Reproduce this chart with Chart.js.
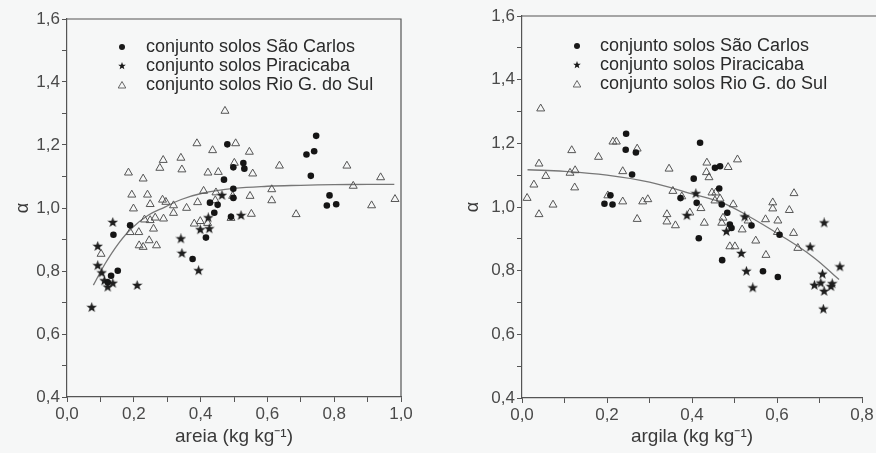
<!DOCTYPE html>
<html>
<head>
<meta charset="utf-8">
<script src="https://cdn.jsdelivr.net/npm/chart.js@4.4.0/dist/chart.umd.min.js"></script>
<style>
	body { margin: 0; background: #f6f7f7; }
	#left { position: absolute; left: 0; top: 0; }
	#right { position: absolute; left: 450px; top: 0; }
</style>
</head>
<body>
<canvas id="left" width="440" height="453"></canvas>
<canvas id="right" width="426" height="453"></canvas>
<script>
// legend labels
const seriesLabels = [
	'conjunto solos São Carlos',
	'conjunto solos Piracicaba',
	'conjunto solos Rio G. do Sul'
];

// ---- areia (left panel), [x, alpha]
const areiaSaoCarlos = [
	[0.480, 1.202], [0.528, 1.143], [0.498, 1.129], [0.531, 1.125], [0.470, 1.090],
	[0.498, 1.061], [0.498, 1.032], [0.428, 1.017], [0.451, 1.010], [0.441, 0.985],
	[0.491, 0.972], [0.189, 0.945], [0.139, 0.915], [0.416, 0.906], [0.376, 0.838],
	[0.152, 0.801], [0.132, 0.785], [0.122, 0.764], [0.746, 1.229], [0.717, 1.170],
	[0.740, 1.180], [0.730, 1.102], [0.786, 1.040], [0.778, 1.008], [0.806, 1.012]
];
const areiaPiracicaba = [
	[0.137, 0.954], [0.092, 0.878], [0.092, 0.817], [0.104, 0.794], [0.112, 0.769],
	[0.137, 0.761], [0.122, 0.749], [0.210, 0.754], [0.074, 0.684], [0.341, 0.902],
	[0.344, 0.856], [0.394, 0.801], [0.426, 0.934], [0.423, 0.969], [0.399, 0.931],
	[0.464, 1.040], [0.521, 0.976]
];
const areiaRioGrande = [
	[0.473, 1.308], [0.389, 1.205], [0.505, 1.205], [0.436, 1.183], [0.546, 1.178],
	[0.288, 1.152], [0.341, 1.159], [0.278, 1.127], [0.344, 1.122], [0.501, 1.143],
	[0.184, 1.112], [0.422, 1.112], [0.453, 1.114], [0.556, 1.109], [0.636, 1.134],
	[0.228, 1.093], [0.409, 1.054], [0.446, 1.049], [0.194, 1.042], [0.241, 1.042],
	[0.496, 1.038], [0.548, 1.038], [0.613, 1.059], [0.613, 1.024], [0.286, 1.026],
	[0.296, 1.019], [0.249, 1.012], [0.391, 1.018], [0.319, 1.008], [0.444, 1.024],
	[0.199, 0.998], [0.358, 1.000], [0.319, 0.984], [0.552, 0.981], [0.491, 0.968],
	[0.232, 0.963], [0.249, 0.961], [0.264, 0.969], [0.289, 0.966], [0.381, 0.950],
	[0.399, 0.958], [0.421, 0.952], [0.259, 0.934], [0.189, 0.923], [0.215, 0.923],
	[0.246, 0.897], [0.216, 0.881], [0.228, 0.876], [0.268, 0.881], [0.102, 0.854],
	[0.838, 1.134], [0.939, 1.097], [0.857, 1.070], [0.982, 1.028], [0.912, 1.008],
	[0.686, 0.980]
];
const areiaFitX = [0.079, 0.114, 0.154, 0.193, 0.243, 0.293, 0.342, 0.402, 0.5, 0.6, 0.7, 0.8, 0.9, 0.98];
const areiaFitY = [0.755, 0.823, 0.887, 0.935, 0.977, 1.003, 1.027, 1.046, 1.062, 1.069, 1.072, 1.074, 1.075, 1.075];

// ---- argila (right panel), [x, alpha]
const argilaSaoCarlos = [
	[0.245, 1.230], [0.244, 1.180], [0.268, 1.171], [0.259, 1.102], [0.208, 1.037],
	[0.194, 1.010], [0.213, 1.008], [0.373, 1.028], [0.404, 1.089], [0.411, 1.013],
	[0.416, 0.902], [0.419, 1.202], [0.454, 1.123], [0.466, 1.128], [0.464, 1.058],
	[0.470, 1.008], [0.483, 0.982], [0.489, 0.945], [0.493, 0.934], [0.540, 0.942],
	[0.606, 0.913], [0.471, 0.833], [0.567, 0.798], [0.602, 0.780]
];
const argilaPiracicaba = [
	[0.388, 0.973], [0.409, 1.042], [0.481, 0.923], [0.524, 0.969], [0.516, 0.854],
	[0.528, 0.798], [0.543, 0.746], [0.711, 0.950], [0.678, 0.874], [0.748, 0.812],
	[0.707, 0.789], [0.688, 0.754], [0.703, 0.761], [0.711, 0.735], [0.727, 0.750],
	[0.730, 0.759], [0.709, 0.679]
];
const argilaRioGrande = [
	[0.044, 1.309], [0.214, 1.205], [0.222, 1.205], [0.117, 1.178], [0.271, 1.183],
	[0.180, 1.157], [0.040, 1.136], [0.237, 1.112], [0.346, 1.120], [0.125, 1.115],
	[0.113, 1.107], [0.056, 1.097], [0.028, 1.070], [0.124, 1.061], [0.355, 1.050],
	[0.012, 1.028], [0.073, 1.007], [0.202, 1.036], [0.237, 1.017], [0.284, 1.017],
	[0.296, 1.024], [0.376, 1.033], [0.040, 0.977], [0.271, 0.962], [0.341, 0.977],
	[0.341, 0.954], [0.361, 0.942], [0.395, 0.982], [0.435, 1.139], [0.485, 1.125],
	[0.507, 1.149], [0.434, 1.109], [0.440, 1.093], [0.447, 1.045], [0.456, 1.045],
	[0.466, 1.026], [0.454, 1.020], [0.497, 1.008], [0.421, 0.996], [0.429, 0.950],
	[0.470, 0.950], [0.473, 0.966], [0.532, 0.957], [0.518, 0.929], [0.489, 0.876],
	[0.501, 0.876], [0.550, 0.894], [0.574, 0.849], [0.640, 1.043], [0.590, 1.014],
	[0.590, 0.995], [0.629, 0.990], [0.573, 0.961], [0.602, 0.957], [0.601, 0.921],
	[0.639, 0.918], [0.649, 0.871]
];
const argilaFitX = [0.013, 0.1, 0.2, 0.3, 0.4, 0.47, 0.528, 0.606, 0.684, 0.746];
const argilaFitY = [1.117, 1.112, 1.100, 1.078, 1.041, 1.014, 0.975, 0.913, 0.844, 0.772];

const FONT = "'Liberation Sans', Arial, sans-serif";

// filled five point star used as point style
function starImage (size, color) {
	const c = document.createElement('canvas');
	c.width = size;
	c.height = size;
	const g = c.getContext('2d');
	drawStar(g, size / 2, size / 2, size / 2, color);
	return c;
}

function drawStar (g, cx, cy, r, color) {
	g.beginPath();
	for (let i = 0; i < 10; i++) {
		const rad = i % 2 === 0 ? r : r * 0.42;
		const a = -Math.PI / 2 + i * Math.PI / 5;
		g.lineTo(cx + rad * Math.cos(a), cy + rad * Math.sin(a));
	}
	g.closePath();
	g.fillStyle = color;
	g.fill();
}

const starPoint = starImage(11, '#1e1e1e');

const toXY = arr => arr.map(p => ({ x: p[0], y: p[1] }));
const decimalComma = v => {
	const n = Math.round(v * 10);
	return n % 2 === 0 ? (n / 10).toFixed(1).replace('.', ',') : '';
};

// legend drawn inside the plot area
const insideLegend = {
	id: 'insideLegend',
	afterDatasetsDraw (chart, args, opts) {
		const ctx = chart.ctx;
		ctx.save();
		ctx.font = '18px ' + FONT;
		ctx.textBaseline = 'middle';
		opts.rows.forEach((y, i) => {
			const mx = opts.markerX;
			if (i === 0) {
				ctx.beginPath();
				ctx.arc(mx, y, 3, 0, Math.PI * 2);
				ctx.fillStyle = '#1a1a1a';
				ctx.fill();
			} else if (i === 1) {
				drawStar(ctx, mx, y, 4, '#1a1a1a');
			} else {
				ctx.beginPath();
				ctx.moveTo(mx, y - 3.5);
				ctx.lineTo(mx + 3.8, y + 3);
				ctx.lineTo(mx - 3.8, y + 3);
				ctx.closePath();
				ctx.strokeStyle = '#666';
				ctx.lineWidth = 1;
				ctx.stroke();
			}
			ctx.fillStyle = '#2a2a2a';
			ctx.fillText(seriesLabels[i], opts.textX, y);
		});
		ctx.restore();
	}
};

// top / right frame lines
const frameLines = {
	id: 'frameLines',
	afterDraw (chart, args, opts) {
		const { left, right, top, bottom } = chart.chartArea;
		const ctx = chart.ctx;
		ctx.save();
		ctx.strokeStyle = '#555';
		ctx.lineWidth = 1.2;
		ctx.beginPath();
		ctx.moveTo(left, top);
		ctx.lineTo(right + (opts.extendTop || 0), top);
		if (opts.right) {
			ctx.lineTo(right, bottom);
		}
		ctx.stroke();
		ctx.restore();
	}
};

function makePanel (canvasId, cfg) {
	const ctx = document.getElementById(canvasId).getContext('2d');
	const axisGrid = {
		display: true,
		drawOnChartArea: false,
		drawTicks: true,
		tickLength: 5,
		color: '#555'
	};
	const axisBorder = { display: true, color: '#555', width: 1.2 };

	return new Chart(ctx, {
		type: 'scatter',
		data: {
			datasets: [
				{
					label: seriesLabels[0],
					data: toXY(cfg.saoCarlos),
					pointStyle: 'circle',
					pointRadius: 3.3,
					backgroundColor: '#151515',
					borderWidth: 0,
					order: 1
				},
				{
					label: seriesLabels[1],
					data: toXY(cfg.piracicaba),
					pointStyle: starPoint,
					order: 2
				},
				{
					label: seriesLabels[2],
					data: toXY(cfg.rioGrande),
					pointStyle: 'triangle',
					pointRadius: 4.6,
					backgroundColor: 'rgba(255,255,255,0)',
					borderColor: '#555',
					borderWidth: 1,
					order: 3
				},
				{
					label: 'ajuste',
					data: cfg.fitX.map((x, i) => ({ x: x, y: cfg.fitY[i] })),
					showLine: true,
					tension: 0.4,
					pointRadius: 0,
					borderColor: '#777',
					borderWidth: 1.3,
					order: 10
				}
			]
		},
		options: {
			responsive: false,
			animation: false,
			layout: { padding: cfg.padding },
			plugins: {
				legend: { display: false },
				tooltip: { enabled: false },
				insideLegend: cfg.legend,
				frameLines: cfg.frame
			},
			scales: {
				x: {
					type: 'linear',
					min: 0,
					max: cfg.xMax,
					grid: axisGrid,
					border: axisBorder,
					ticks: {
						stepSize: 0.1,
						autoSkip: false,
						maxRotation: 0,
						padding: 2,
						color: '#4a4a4a',
						font: { family: FONT, size: 17 },
						callback: decimalComma
					},
					title: {
						display: true,
						text: cfg.xTitle,
						color: '#3a3a3a',
						font: { family: FONT, size: 19 },
						padding: { top: 2, bottom: 5 }
					},
					afterFit: s => { s.height = cfg.xAxisHeight; }
				},
				y: {
					type: 'linear',
					min: 0.4,
					max: 1.6,
					grid: axisGrid,
					border: axisBorder,
					ticks: {
						stepSize: 0.1,
						autoSkip: false,
						padding: 2,
						color: '#4a4a4a',
						font: { family: FONT, size: 17 },
						callback: decimalComma
					},
					title: {
						display: true,
						text: 'α',
						color: '#3a3a3a',
						font: { family: FONT, size: 18 },
						padding: { top: 12, bottom: 0 }
					},
					afterFit: s => { s.width = cfg.yAxisWidth; }
				}
			}
		},
		plugins: [insideLegend, frameLines]
	});
}

makePanel('left', {
	saoCarlos: areiaSaoCarlos,
	piracicaba: areiaPiracicaba,
	rioGrande: areiaRioGrande,
	fitX: areiaFitX,
	fitY: areiaFitY,
	xMax: 1.0,
	xTitle: 'areia (kg kg⁻¹)',
	padding: { top: 19, right: 39, left: 0, bottom: 0 },
	xAxisHeight: 56,
	yAxisWidth: 67,
	legend: { markerX: 122, textX: 146, rows: [47, 66, 85] },
	frame: { right: true }
});

makePanel('right', {
	saoCarlos: argilaSaoCarlos,
	piracicaba: argilaPiracicaba,
	rioGrande: argilaRioGrande,
	fitX: argilaFitX,
	fitY: argilaFitY,
	xMax: 0.8,
	xTitle: 'argila (kg kg⁻¹)',
	padding: { top: 16, right: 14, left: 0, bottom: 0 },
	xAxisHeight: 55,
	yAxisWidth: 72,
	legend: { markerX: 127, textX: 150, rows: [46, 65, 84] },
	frame: { right: false, extendTop: 14 }
});
</script>
</body>
</html>
